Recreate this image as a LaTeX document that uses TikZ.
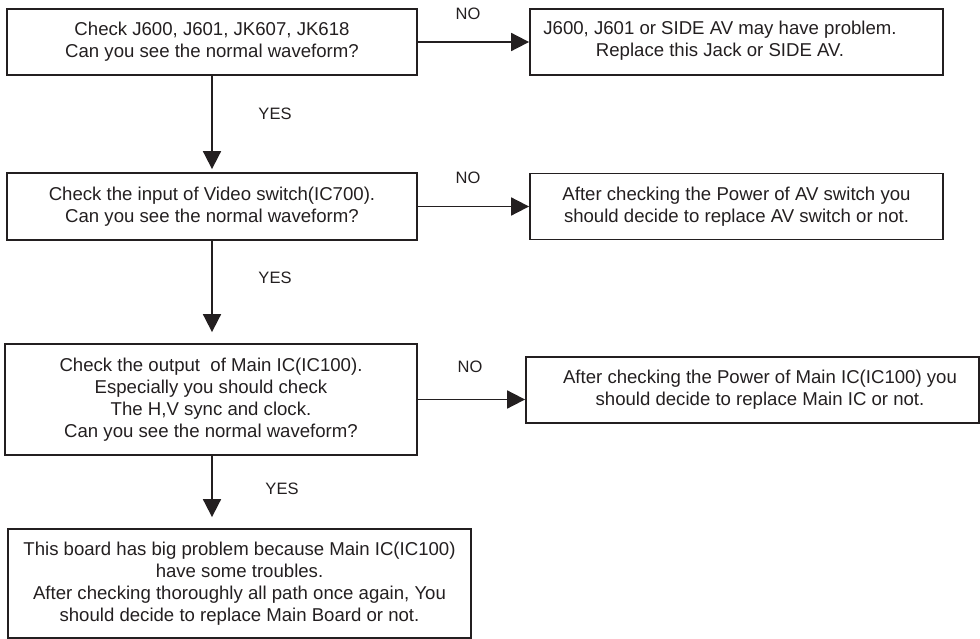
\documentclass[tikz,border=0pt]{standalone}
\usepackage{fontspec}
\setmainfont{Liberation Sans}
\usetikzlibrary{arrows.meta}
\definecolor{ink}{HTML}{231F20}
\begin{document}
\begin{tikzpicture}[x=1pt,y=-1pt,
  box/.style={draw=ink, line width=1.8pt, rectangle, inner sep=0pt, align=center, text=ink, font=\fontsize{18.6}{22}\selectfont},
  txt/.style={align=center, text=ink, inner sep=0pt, font=\fontsize{18.6}{22}\selectfont},
  lbl/.style={text=ink, inner sep=0pt, font=\fontsize{16.5}{19}\selectfont},
  arr/.style={draw=ink, line width=1.8pt, -{Triangle[length=18pt,width=18pt]}}]
\useasboundingbox (0,0) rectangle (980,639);
% left column
\node[box, minimum width=410pt, minimum height=66pt] (b1) at (212,42)
  {Check J600, J601, JK607, JK618\\Can you see the normal waveform?};
\node[box, minimum width=410pt, minimum height=67pt] (b3) at (212,206.5)
  {Check the input of Video switch(IC700).\\Can you see the normal waveform?};
\node[box, minimum width=412pt, minimum height=111pt] (b5) at (211,399.5)
  {Check the output\ \ of Main IC(IC100).\\Especially you should check\\The H,V sync and clock.\\Can you see the normal waveform?};
\node[box, minimum width=463pt, minimum height=109pt] (b7) at (239.5,583.5)
  {This board has big problem because Main IC(IC100)\\have some troubles.\\After checking thoroughly all path once again, You\\should decide to replace Main Board or not.};
% right column
\node[box, minimum width=413pt, minimum height=66pt] (b2) at (736.5,42) {};
\node[txt] (t2) at (720,41) {J600, J601 or SIDE AV may have problem.\\Replace this Jack or SIDE AV.};
\node[box, minimum width=413pt, minimum height=66pt] (b4) at (736.5,206.5)
  {After checking the Power of AV switch you\\should decide to replace AV switch or not.};
\node[box, minimum width=453pt, minimum height=66pt] (b6) at (752.5,390) {};
\node[txt] (t6) at (760,390) {After checking the Power of Main IC(IC100) you\\should decide to replace Main IC or not.};
% labels
\node[lbl] (no1) at (468,14) {NO};
\node[lbl] (no2) at (468,178) {NO};
\node[lbl] (no3) at (470,367) {NO};
\node[lbl] (yes1) at (275,114) {YES};
\node[lbl] (yes2) at (275,278) {YES};
\node[lbl] (yes3) at (282,489) {YES};
% connectors
\draw[arr] (b1.east) -- (b2.west);
\draw[arr] (b3.east) -- (b4.west);
\draw[arr] (b5.east) -- (b5.east -| b6.west);
\draw[arr, shorten >=3pt] (b1.south) -- (b3.north);
\draw[arr, shorten >=11pt] (b3.south) -- (b5.north -| b3.south);
\draw[arr, shorten >=11pt] (b5.south -| b3.south) -- (b7.north -| b3.south);
\end{tikzpicture}
\end{document}
